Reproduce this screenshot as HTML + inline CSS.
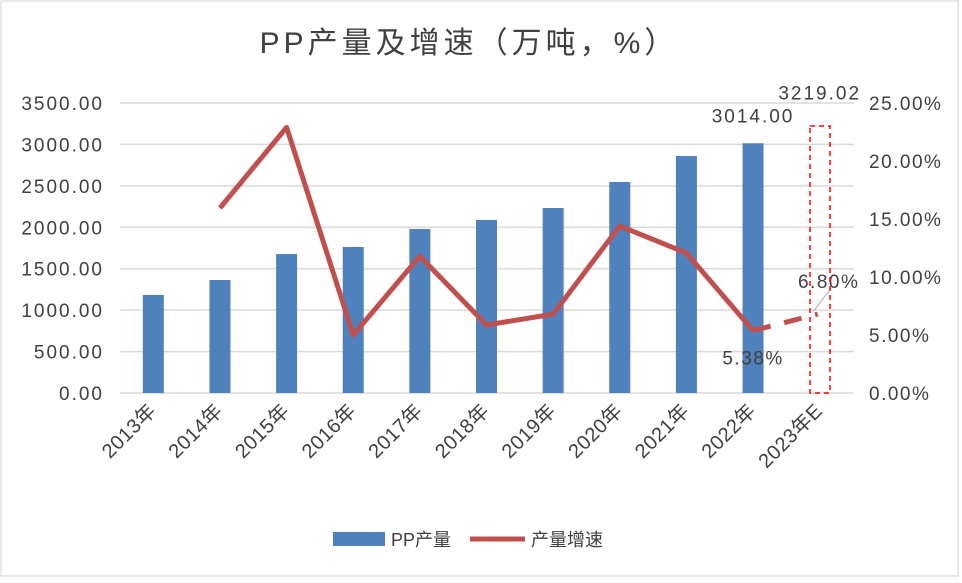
<!DOCTYPE html>
<html><head><meta charset="utf-8"><style>
body{margin:0;background:#fff;}
svg text{font-family:"Liberation Sans","Noto Sans CJK SC",sans-serif;fill:#404040;}
</style></head><body>
<svg id="chart" width="962" height="578" xmlns="http://www.w3.org/2000/svg">
<rect x="1" y="1" width="957" height="575" fill="#fff" stroke="#d0d0d0" stroke-width="1"/>
<text x="469" y="53" font-size="30" letter-spacing="4" text-anchor="middle">PP产量及增速（万吨，%）</text>
<g id="grid"></g><g id="bars"></g><g id="line"></g><g id="labels"></g>
<rect x="810" y="126" width="20" height="267" fill="none" stroke="#ff0000" stroke-width="1.5" stroke-dasharray="5,4"/>
<g>
<rect x="333" y="532" width="52" height="14" fill="#4f81bd"/>
<text x="391" y="546" font-size="18">PP产量</text>
<line x1="470" y1="539" x2="525" y2="539" stroke="#c0504d" stroke-width="5"/>
<text x="531" y="546" font-size="18">产量增速</text>
</g>
</svg>
<script>
const categories=["2013年","2014年","2015年","2016年","2017年","2018年","2019年","2020年","2021年","2022年","2023年E"];
const output=[1183,1364,1677,1762,1979,2088,2233,2547,2860,3014,3219.02];
const growth=[null,15.95,22.9,5.0,11.8,5.86,6.8,14.4,12.07,5.38,6.80];
const leftTicks=["0.00","500.00","1000.00","1500.00","2000.00","2500.00","3000.00","3500.00"];
const rightTicks=["0.00%","5.00%","10.00%","15.00%","20.00%","25.00%"];
const NS="http://www.w3.org/2000/svg";
const X0=120,X1=853,Y0=393,Y1=103;
const step=(X1-X0)/categories.length;
const xc=i=>X0+step*(i+0.5);
const yL=v=>Y0-(v/3500)*(Y0-Y1);
const yR=v=>Y0-(v/25)*(Y0-Y1);
function mk(tag,attrs,parent,txt){const e=document.createElementNS(NS,tag);for(const k in attrs)e.setAttribute(k,attrs[k]);if(txt!=null)e.textContent=txt;document.getElementById(parent).appendChild(e);return e;}
leftTicks.forEach((t,i)=>{const v=i*500;const y=yL(v);
 const l=mk("line",{x1:X0,x2:X1+1,y1:y,y2:y,stroke:"#d9d9d9","stroke-width":1.5},"grid");
 
 
 const tx=mk("text",{x:104,y:y+7,"font-size":19,"letter-spacing":2,"text-anchor":"end"},"grid",t);
 
 
});
rightTicks.forEach((t,i)=>{const y=yR(i*5);
 const tx=mk("text",{x:869,y:y+7,"font-size":19,"letter-spacing":1.5},"grid",t);
 
 
});
categories.forEach((c,i)=>{
 const x=xc(i);
 if(i<categories.length-1){
  const r=mk("rect",{x:x-10.5,y:yL(output[i]),width:21,height:Y0-yL(output[i]),fill:"#4f81bd"},"bars");
  
  
 }
 const tx=mk("text",{x:x+4,y:412,"font-size":20,"letter-spacing":0.5,"text-anchor":"end",transform:`rotate(-45 ${x+4} 412)`},"labels",c);
 
 
});
let pts=[];growth.forEach((g,i)=>{if(g!=null&&i<=9)pts.push(xc(i)+","+yR(g));});
const pl=mk("polyline",{points:pts.join(" "),fill:"none",stroke:"#c0504d","stroke-width":5,"stroke-linejoin":"round"},"line");


const dl=mk("line",{x1:xc(9),y1:yR(growth[9]),x2:xc(10)-2,y2:yR(growth[10]),stroke:"#c0504d","stroke-width":5,"stroke-dasharray":"18,14"},"line");


const ld=mk("line",{x1:xc(10)-6,y1:yR(growth[10])-3,x2:xc(10)+9,y2:yR(growth[10])-23,stroke:"#a6a6a6","stroke-width":1},"line");


const l1=mk("text",{x:xc(9),y:yL(output[9])-21,"font-size":19,"letter-spacing":2,"text-anchor":"middle"},"labels",output[9].toFixed(2));


const l2=mk("text",{x:xc(10),y:yL(output[10])-27,"font-size":19,"letter-spacing":2,"text-anchor":"middle"},"labels",output[10].toFixed(2));


const l3=mk("text",{x:xc(9),y:yR(growth[9])+34,"font-size":19,"letter-spacing":1.5,"text-anchor":"middle"},"labels",growth[9].toFixed(2)+"%");


const l4=mk("text",{x:xc(10)+9,y:yR(growth[10])-26,"font-size":19,"letter-spacing":1.5,"text-anchor":"middle"},"labels",growth[10].toFixed(2)+"%");


</script>
</body></html>
